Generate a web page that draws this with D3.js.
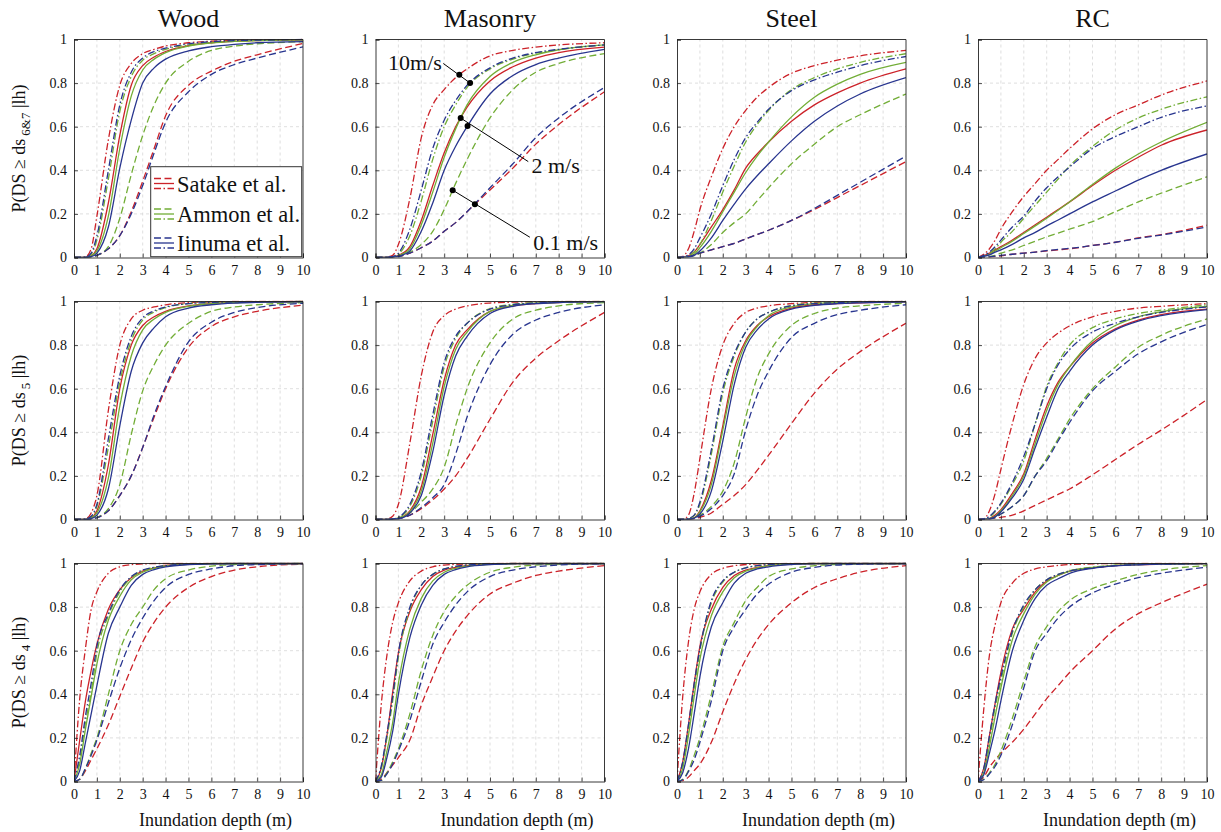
<!DOCTYPE html>
<html>
<head>
<meta charset="utf-8">
<script src="https://cdn.jsdelivr.net/npm/d3@7"></script>
<style>
  html, body { margin: 0; padding: 0; background: #fff; }
  svg { display: block; }
  text { font-family: "Liberation Serif", "Times New Roman", serif; fill: #111; }
</style>
</head>
<body>
<svg id="chart" width="1221" height="832"></svg>
<script>
// Inundation depth samples (m) shared by every curve
const depth = [0, 0.25, 0.5, 0.75, 1, 1.5, 2, 2.5, 3, 3.5, 4, 5, 6, 7, 8, 10];

const materials = ["Wood", "Masonry", "Steel", "RC"];
const damageStates = ["6&7", "5", "4"];
const models = ["Satake et al.", "Ammon et al.", "Iinuma et al."];
const velocities = ["0.1 m/s", "2 m/s", "10 m/s"];
const xTicks = [0, 1, 2, 3, 4, 5, 6, 7, 8, 9, 10];
const yTicks = [0, 0.2, 0.4, 0.6, 0.8, 1];
const yTickLabels = ["0", "0.2", "0.4", "0.6", "0.8", "1"];

// Each panel: 9 curves in order
// Satake (0.1, 2, 10 m/s), Ammon (0.1, 2, 10 m/s), Iinuma (0.1, 2, 10 m/s)
const woodDs67 = [
  [0,0,0.001,0.004,0.01,0.04,0.1,0.21,0.35,0.5,0.65,0.79,0.855,0.9,0.93,0.982],
  [0,0,0.001,0.008,0.04,0.25,0.56,0.79,0.88,0.92,0.945,0.972,0.985,0.992,0.995,0.998],
  [0,0,0.003,0.04,0.19,0.54,0.79,0.89,0.935,0.955,0.97,0.985,0.992,0.996,0.998,1],
  [0,0,0,0.002,0.01,0.05,0.18,0.38,0.56,0.7,0.8,0.9,0.95,0.97,0.98,0.99],
  [0,0,0,0.006,0.03,0.19,0.5,0.74,0.86,0.91,0.94,0.97,0.984,0.991,0.995,0.998],
  [0,0,0.001,0.015,0.08,0.36,0.67,0.83,0.905,0.935,0.955,0.975,0.987,0.993,0.996,0.999],
  [0,0,0.001,0.004,0.01,0.04,0.1,0.2,0.33,0.48,0.62,0.76,0.84,0.885,0.915,0.966],
  [0,0,0,0.004,0.02,0.14,0.41,0.63,0.8,0.87,0.91,0.948,0.967,0.978,0.985,0.99],
  [0,0,0.002,0.02,0.1,0.4,0.7,0.85,0.915,0.945,0.96,0.98,0.99,0.995,0.997,1]
];
const masonryDs67 = [
  [0,0,0.001,0.003,0.005,0.02,0.045,0.075,0.12,0.16,0.21,0.31,0.41,0.52,0.61,0.76],
  [0,0,0,0.002,0.01,0.05,0.17,0.33,0.48,0.6,0.69,0.81,0.875,0.915,0.94,0.965],
  [0,0,0.002,0.01,0.06,0.27,0.55,0.7,0.77,0.825,0.865,0.925,0.95,0.965,0.975,0.985],
  [0,0,0,0.002,0.005,0.025,0.06,0.12,0.22,0.34,0.45,0.64,0.77,0.85,0.89,0.935],
  [0,0,0,0.002,0.008,0.04,0.15,0.3,0.46,0.59,0.7,0.83,0.895,0.93,0.953,0.975],
  [0,0,0.001,0.003,0.015,0.1,0.26,0.45,0.6,0.7,0.78,0.865,0.91,0.937,0.953,0.975],
  [0,0,0.001,0.003,0.005,0.02,0.045,0.075,0.12,0.16,0.21,0.32,0.43,0.55,0.64,0.78],
  [0,0,0,0.001,0.006,0.03,0.12,0.25,0.4,0.51,0.6,0.75,0.835,0.885,0.915,0.955],
  [0,0,0.001,0.004,0.02,0.13,0.31,0.5,0.63,0.72,0.79,0.87,0.915,0.94,0.955,0.975]
];
const steelDs67 = [
  [0,0.002,0.005,0.012,0.02,0.035,0.05,0.065,0.085,0.105,0.125,0.17,0.22,0.275,0.33,0.44],
  [0,0.002,0.008,0.025,0.06,0.14,0.22,0.31,0.41,0.475,0.53,0.625,0.7,0.755,0.8,0.865],
  [0,0.005,0.04,0.12,0.22,0.37,0.5,0.6,0.675,0.735,0.78,0.845,0.88,0.905,0.925,0.95],
  [0,0.001,0.003,0.008,0.02,0.06,0.115,0.16,0.2,0.26,0.32,0.43,0.52,0.6,0.655,0.75],
  [0,0.001,0.004,0.015,0.045,0.12,0.21,0.3,0.39,0.465,0.53,0.645,0.735,0.795,0.84,0.895],
  [0,0.001,0.008,0.025,0.06,0.17,0.3,0.42,0.53,0.61,0.675,0.77,0.825,0.865,0.895,0.935],
  [0,0.002,0.005,0.012,0.02,0.035,0.05,0.065,0.085,0.105,0.125,0.17,0.225,0.285,0.345,0.465],
  [0,0.001,0.003,0.01,0.03,0.09,0.17,0.245,0.315,0.375,0.43,0.535,0.625,0.695,0.75,0.825],
  [0,0.002,0.012,0.04,0.09,0.2,0.33,0.45,0.55,0.62,0.68,0.765,0.815,0.85,0.88,0.922]
];
const rcDs67 = [
  [0,0.001,0.002,0.005,0.008,0.015,0.02,0.025,0.03,0.035,0.04,0.055,0.07,0.09,0.105,0.148],
  [0,0.008,0.02,0.035,0.05,0.08,0.115,0.15,0.185,0.22,0.255,0.33,0.4,0.46,0.515,0.585],
  [0,0.015,0.04,0.08,0.13,0.21,0.28,0.34,0.4,0.45,0.5,0.59,0.655,0.7,0.745,0.81],
  [0,0.002,0.005,0.01,0.02,0.035,0.055,0.075,0.095,0.112,0.13,0.165,0.21,0.255,0.295,0.37],
  [0,0.006,0.015,0.03,0.045,0.075,0.11,0.145,0.18,0.217,0.255,0.335,0.41,0.475,0.53,0.62],
  [0,0.008,0.02,0.04,0.07,0.12,0.18,0.24,0.3,0.36,0.42,0.51,0.585,0.64,0.68,0.737],
  [0,0.001,0.003,0.006,0.01,0.015,0.02,0.025,0.032,0.037,0.042,0.055,0.07,0.088,0.103,0.14],
  [0,0.005,0.012,0.025,0.035,0.06,0.09,0.115,0.145,0.172,0.2,0.255,0.305,0.355,0.4,0.475],
  [0,0.01,0.025,0.05,0.08,0.14,0.19,0.26,0.32,0.37,0.415,0.5,0.555,0.6,0.643,0.695]
];
const woodDs5 = [
  [0,0,0,0.002,0.008,0.04,0.11,0.2,0.33,0.47,0.6,0.79,0.885,0.93,0.955,0.983],
  [0,0,0.001,0.008,0.04,0.25,0.6,0.8,0.89,0.93,0.955,0.98,0.99,0.995,0.998,1],
  [0,0,0.003,0.03,0.11,0.5,0.8,0.92,0.96,0.975,0.985,0.995,0.998,1,1,1],
  [0,0,0,0.003,0.01,0.05,0.16,0.39,0.59,0.71,0.8,0.9,0.955,0.975,0.985,0.995],
  [0,0,0.001,0.006,0.03,0.19,0.52,0.75,0.87,0.92,0.95,0.978,0.99,0.995,0.997,1],
  [0,0,0.002,0.012,0.06,0.33,0.63,0.82,0.915,0.952,0.972,0.99,0.996,0.998,0.999,1],
  [0,0,0,0.002,0.008,0.04,0.11,0.2,0.33,0.48,0.61,0.815,0.905,0.95,0.972,0.992],
  [0,0,0,0.004,0.02,0.14,0.43,0.68,0.81,0.88,0.93,0.97,0.985,0.993,0.996,0.999],
  [0,0,0.002,0.015,0.07,0.37,0.66,0.84,0.925,0.957,0.975,0.99,0.996,0.998,0.999,1]
];
const masonryDs5 = [
  [0,0,0,0.002,0.005,0.02,0.05,0.09,0.14,0.2,0.28,0.46,0.63,0.74,0.82,0.95],
  [0,0,0,0.001,0.005,0.04,0.15,0.39,0.64,0.8,0.87,0.955,0.98,0.99,0.995,0.999],
  [0,0,0.002,0.015,0.07,0.35,0.66,0.86,0.935,0.965,0.98,0.993,0.997,0.999,1,1],
  [0,0,0,0.002,0.008,0.03,0.08,0.14,0.24,0.43,0.6,0.81,0.92,0.96,0.98,0.995],
  [0,0,0,0.001,0.004,0.035,0.13,0.35,0.61,0.78,0.86,0.955,0.982,0.992,0.996,0.999],
  [0,0,0.001,0.002,0.008,0.06,0.2,0.45,0.7,0.83,0.9,0.967,0.987,0.995,0.998,1],
  [0,0,0,0.001,0.005,0.02,0.055,0.1,0.16,0.3,0.47,0.71,0.85,0.915,0.95,0.985],
  [0,0,0,0.001,0.003,0.03,0.11,0.31,0.57,0.75,0.84,0.945,0.978,0.99,0.995,0.999],
  [0,0,0.001,0.003,0.01,0.07,0.22,0.48,0.72,0.84,0.9,0.965,0.985,0.993,0.997,1]
];
const steelDs5 = [
  [0,0,0.001,0.003,0.01,0.03,0.07,0.11,0.16,0.225,0.295,0.44,0.58,0.69,0.77,0.9],
  [0,0,0.002,0.008,0.04,0.18,0.43,0.69,0.82,0.89,0.93,0.97,0.985,0.99,0.994,0.998],
  [0,0.001,0.02,0.12,0.28,0.6,0.8,0.9,0.95,0.97,0.98,0.99,0.996,0.998,1,1],
  [0,0,0.001,0.005,0.02,0.06,0.13,0.26,0.47,0.65,0.76,0.89,0.945,0.97,0.98,0.992],
  [0,0,0.002,0.007,0.035,0.16,0.41,0.66,0.81,0.885,0.935,0.975,0.99,0.995,0.997,0.999],
  [0,0,0.004,0.018,0.07,0.3,0.58,0.75,0.86,0.92,0.95,0.982,0.992,0.996,0.998,1],
  [0,0,0.001,0.004,0.015,0.05,0.11,0.21,0.41,0.57,0.68,0.835,0.9,0.94,0.96,0.985],
  [0,0,0.001,0.006,0.025,0.13,0.36,0.62,0.79,0.87,0.92,0.965,0.982,0.99,0.994,0.998],
  [0,0,0.005,0.02,0.08,0.32,0.6,0.76,0.86,0.92,0.95,0.98,0.99,0.995,0.998,1]
];
const rcDs5 = [
  [0,0.001,0.003,0.006,0.01,0.02,0.04,0.065,0.09,0.115,0.14,0.205,0.275,0.345,0.41,0.55],
  [0,0.001,0.005,0.02,0.045,0.12,0.21,0.37,0.52,0.63,0.7,0.81,0.875,0.915,0.94,0.965],
  [0,0.003,0.04,0.12,0.23,0.44,0.62,0.74,0.81,0.855,0.888,0.93,0.955,0.97,0.978,0.99],
  [0,0.001,0.003,0.01,0.025,0.06,0.11,0.2,0.28,0.37,0.46,0.6,0.7,0.79,0.845,0.92],
  [0,0.001,0.004,0.015,0.04,0.11,0.2,0.35,0.5,0.62,0.7,0.82,0.89,0.93,0.953,0.978],
  [0,0.002,0.01,0.035,0.07,0.16,0.27,0.44,0.61,0.72,0.8,0.88,0.92,0.945,0.96,0.985],
  [0,0.001,0.003,0.01,0.025,0.06,0.11,0.2,0.27,0.36,0.445,0.59,0.68,0.76,0.815,0.895],
  [0,0.001,0.003,0.012,0.035,0.1,0.185,0.33,0.47,0.6,0.68,0.8,0.87,0.91,0.935,0.963],
  [0,0.003,0.015,0.04,0.075,0.17,0.29,0.44,0.6,0.71,0.78,0.86,0.9,0.93,0.95,0.975]
];
const woodDs4 = [
  [0,0.01,0.05,0.1,0.15,0.26,0.39,0.52,0.64,0.73,0.8,0.89,0.94,0.97,0.985,0.997],
  [0,0.19,0.37,0.51,0.63,0.79,0.88,0.935,0.965,0.98,0.99,0.997,0.999,1,1,1],
  [0,0.38,0.61,0.79,0.87,0.955,0.985,0.995,0.998,1,1,1,1,1,1,1],
  [0,0.01,0.06,0.13,0.2,0.4,0.6,0.72,0.8,0.88,0.93,0.97,0.988,0.995,0.998,1],
  [0,0.08,0.24,0.39,0.54,0.74,0.85,0.925,0.96,0.978,0.988,0.996,0.999,1,1,1],
  [0,0.1,0.27,0.41,0.59,0.76,0.87,0.935,0.967,0.982,0.99,0.997,1,1,1,1],
  [0,0.01,0.06,0.12,0.19,0.36,0.52,0.65,0.75,0.83,0.89,0.95,0.975,0.99,0.995,1],
  [0,0.05,0.18,0.31,0.44,0.68,0.8,0.9,0.95,0.972,0.985,0.995,0.998,1,1,1],
  [0,0.12,0.3,0.45,0.62,0.77,0.88,0.94,0.97,0.983,0.99,0.997,1,1,1,1]
];
const masonryDs4 = [
  [0,0.01,0.04,0.075,0.11,0.19,0.35,0.48,0.6,0.69,0.76,0.86,0.91,0.945,0.965,0.99],
  [0,0.06,0.21,0.41,0.59,0.78,0.88,0.94,0.97,0.982,0.99,0.997,1,1,1,1],
  [0,0.35,0.58,0.73,0.82,0.92,0.965,0.985,0.993,0.996,0.998,1,1,1,1,1],
  [0,0.005,0.04,0.09,0.15,0.31,0.51,0.67,0.78,0.85,0.9,0.96,0.983,0.993,0.997,1],
  [0,0.03,0.14,0.27,0.45,0.7,0.84,0.92,0.96,0.978,0.988,0.996,0.999,1,1,1],
  [0,0.06,0.2,0.37,0.57,0.79,0.9,0.95,0.975,0.987,0.993,0.998,1,1,1,1],
  [0,0.005,0.035,0.08,0.14,0.28,0.46,0.63,0.73,0.81,0.87,0.94,0.97,0.985,0.993,0.999],
  [0,0.02,0.11,0.23,0.4,0.66,0.81,0.9,0.95,0.972,0.985,0.995,0.999,1,1,1],
  [0,0.07,0.22,0.39,0.59,0.8,0.9,0.95,0.975,0.987,0.993,0.998,1,1,1,1]
];
const steelDs4 = [
  [0,0.003,0.02,0.05,0.08,0.18,0.32,0.45,0.56,0.65,0.72,0.82,0.89,0.93,0.96,0.99],
  [0,0.09,0.26,0.45,0.62,0.79,0.89,0.945,0.97,0.982,0.99,0.997,1,1,1,1],
  [0,0.39,0.64,0.79,0.87,0.95,0.978,0.99,0.995,0.998,0.999,1,1,1,1,1],
  [0,0.01,0.05,0.12,0.2,0.4,0.62,0.73,0.83,0.89,0.94,0.975,0.99,0.996,0.999,1],
  [0,0.06,0.21,0.39,0.56,0.76,0.87,0.935,0.965,0.98,0.99,0.997,1,1,1,1],
  [0,0.08,0.24,0.43,0.6,0.82,0.915,0.96,0.98,0.99,0.995,0.999,1,1,1,1],
  [0,0.008,0.045,0.1,0.18,0.37,0.6,0.71,0.79,0.86,0.905,0.96,0.982,0.993,0.997,1],
  [0,0.04,0.15,0.31,0.48,0.71,0.82,0.91,0.955,0.975,0.985,0.995,0.999,1,1,1],
  [0,0.09,0.26,0.45,0.61,0.83,0.92,0.96,0.98,0.99,0.995,0.999,1,1,1,1]
];
const rcDs4 = [
  [0,0.02,0.065,0.1,0.13,0.18,0.24,0.31,0.38,0.44,0.5,0.6,0.7,0.77,0.82,0.905],
  [0,0.06,0.21,0.36,0.5,0.7,0.79,0.87,0.92,0.945,0.965,0.98,0.99,0.995,0.997,0.999],
  [0,0.33,0.58,0.72,0.82,0.91,0.955,0.975,0.985,0.991,0.995,0.998,1,1,1,1],
  [0,0.01,0.04,0.08,0.14,0.29,0.46,0.62,0.71,0.78,0.83,0.885,0.92,0.95,0.97,0.99],
  [0,0.04,0.16,0.3,0.43,0.65,0.77,0.86,0.915,0.945,0.965,0.982,0.991,0.995,0.997,0.999],
  [0,0.05,0.19,0.34,0.46,0.68,0.8,0.88,0.925,0.95,0.967,0.983,0.992,0.996,0.998,1],
  [0,0.008,0.035,0.07,0.12,0.26,0.43,0.6,0.68,0.75,0.8,0.865,0.905,0.935,0.955,0.983],
  [0,0.03,0.13,0.24,0.37,0.6,0.74,0.84,0.9,0.93,0.955,0.978,0.989,0.994,0.997,0.999],
  [0,0.06,0.21,0.36,0.48,0.69,0.81,0.88,0.925,0.95,0.965,0.98,0.99,0.995,0.997,1]
];

const panelRows = [
  [woodDs67, masonryDs67, steelDs67, rcDs67],
  [woodDs5, masonryDs5, steelDs5, rcDs5],
  [woodDs4, masonryDs4, steelDs4, rcDs4]
];

// Styling
const modelColors = ["#cc2229", "#72ad36", "#28358f"];
const velocityDash = ["7,3.5", null, "7,2.5,1.5,2.5"];

// Layout
const W = 1221, H = 832;
const plotW = 229, plotH = 218;
const colLeft = [74, 375.5, 677, 978];
const rowTop = [39.5, 301.5, 563.5];

const svg = d3.select("#chart");
svg.append("rect").attr("width", W).attr("height", H).attr("fill", "#fff");

const line = d3.line().curve(d3.curveMonotoneX);

function interpAt(values, x) {
  for (let i = 1; i < depth.length; i++) {
    if (x <= depth[i]) {
      const t = (x - depth[i - 1]) / (depth[i] - depth[i - 1]);
      return values[i - 1] + t * (values[i] - values[i - 1]);
    }
  }
  return values[values.length - 1];
}

const scales = [];

panelRows.forEach((row, r) => {
  scales[r] = [];
  row.forEach((curves, c) => {
    const x = d3.scaleLinear().domain([0, 10]).range([colLeft[c], colLeft[c] + plotW]);
    const y = d3.scaleLinear().domain([0, 1]).range([rowTop[r] + plotH, rowTop[r]]);
    scales[r][c] = { x, y };
    const g = svg.append("g");

    // dashed grid
    g.append("g").selectAll("line").data(xTicks.slice(1, -1)).join("line")
      .attr("x1", d => x(d)).attr("x2", d => x(d))
      .attr("y1", y(0)).attr("y2", y(1))
      .attr("stroke", "#d6d6d6").attr("stroke-width", 0.8).attr("stroke-dasharray", "3,3");
    g.append("g").selectAll("line").data(yTicks.slice(1, -1)).join("line")
      .attr("y1", d => y(d)).attr("y2", d => y(d))
      .attr("x1", x(0)).attr("x2", x(10))
      .attr("stroke", "#d6d6d6").attr("stroke-width", 0.8).attr("stroke-dasharray", "3,3");

    // curves
    const clipId = `clip-${r}-${c}`;
    svg.append("clipPath").attr("id", clipId).append("rect")
      .attr("x", x(0)).attr("y", y(1) - 1).attr("width", plotW).attr("height", plotH + 1);
    const cg = g.append("g").attr("clip-path", `url(#${clipId})`);
    curves.forEach((vals, k) => {
      const m = Math.floor(k / 3), v = k % 3;
      cg.append("path")
        .attr("d", line(depth.map((d, i) => [x(d), y(vals[i])])))
        .attr("fill", "none")
        .attr("stroke", modelColors[m])
        .attr("stroke-width", 1.3)
        .attr("stroke-dasharray", velocityDash[v]);
    });

    // axes: box with inward ticks
    const xAxis = d3.axisBottom(x).tickValues(xTicks).tickSize(-4).tickPadding(8).tickFormat(d3.format("d"));
    const yAxis = d3.axisLeft(y).tickValues(yTicks).tickSize(-4).tickPadding(7).tickFormat((d, i) => yTickLabels[i]);
    const ax = g.append("g").attr("transform", `translate(0,${y(0)})`).call(xAxis);
    const ay = g.append("g").attr("transform", `translate(${x(0)},0)`).call(yAxis);
    [ax, ay].forEach(a => {
      a.attr("font-family", null);
      a.select(".domain").attr("stroke", "#222").attr("stroke-width", 0.9);
      a.selectAll(".tick line").attr("stroke", "#222").attr("stroke-width", 0.8);
      a.selectAll(".tick text").attr("font-size", 14).attr("fill", "#111");
    });
    g.append("line").attr("x1", x(0)).attr("x2", x(10)).attr("y1", y(1)).attr("y2", y(1))
      .attr("stroke", "#222").attr("stroke-width", 0.9);
    g.append("line").attr("x1", x(10)).attr("x2", x(10)).attr("y1", y(0)).attr("y2", y(1))
      .attr("stroke", "#222").attr("stroke-width", 0.9);

    if (r === 0) {
      svg.append("text").attr("x", x(5)).attr("y", 27)
        .attr("text-anchor", "middle").attr("font-size", 26).text(materials[c]);
    }
    if (r === 2) {
      svg.append("text").attr("x", x(5) + 27).attr("y", 826)
        .attr("text-anchor", "middle").attr("font-size", 18).text("Inundation depth (m)");
    }
  });

  // y label with subscript damage state
  const cy = rowTop[r] + plotH / 2;
  const t = svg.append("text")
    .attr("transform", `translate(25,${cy}) rotate(-90)`)
    .attr("text-anchor", "middle").attr("font-size", 18);
  t.append("tspan").text("P(DS \u2265 ds");
  t.append("tspan").attr("font-size", 13).attr("dy", 5).attr("dx", 3).text(damageStates[r]);
  t.append("tspan").attr("dy", -5).text(" |lh)");
});

// Legend in the top-left panel
{
  const lg = svg.append("g");
  const lx = 150.7, ly = 166.7, lw = 151, lh = 90;
  lg.append("rect").attr("x", lx).attr("y", ly).attr("width", lw).attr("height", lh)
    .attr("fill", "#fff").attr("stroke", "#333").attr("stroke-width", 1);
  const centers = [183.5, 214, 243];
  models.forEach((name, m) => {
    velocities.forEach((vel, v) => {
      lg.append("line")
        .attr("x1", 154).attr("x2", 174)
        .attr("y1", centers[m] + (v - 1) * 5).attr("y2", centers[m] + (v - 1) * 5)
        .attr("stroke", modelColors[m]).attr("stroke-width", 1.3)
        .attr("stroke-dasharray", velocityDash[v]);
    });
    lg.append("text").attr("x", 177).attr("y", centers[m] + 8)
      .attr("font-size", 22.5).text(name);
  });
}

// Velocity annotations in the masonry DS6&7 panel
{
  const { x, y } = scales[0][1];
  const data = masonryDs67;
  const notes = [
    { text: "10m/s", at: [0.55, 0.86], from: [2.96, 0.89], dots: [[3.66, 2], [4.13, 8]] },
    { text: "2 m/s", at: [6.81, 0.388], from: [6.67, 0.44], dots: [[4.02, 7], [3.72, 1]] },
    { text: "0.1 m/s", at: [6.89, 0.034], from: [6.74, 0.093], dots: [[4.34, 0], [3.37, 3]] }
  ];
  const ag = svg.append("g");
  notes.forEach(n => {
    const pts = n.dots.map(([dx, k]) => [x(dx), y(interpAt(data[k], dx))]);
    const far = pts.reduce((a, b) => (Math.abs(b[0] - x(n.from[0])) > Math.abs(a[0] - x(n.from[0])) ? b : a));
    ag.append("line").attr("x1", x(n.from[0])).attr("y1", y(n.from[1]))
      .attr("x2", far[0]).attr("y2", far[1]).attr("stroke", "#000").attr("stroke-width", 1);
    pts.forEach(p => ag.append("circle").attr("cx", p[0]).attr("cy", p[1]).attr("r", 3).attr("fill", "#000"));
    ag.append("text").attr("x", x(n.at[0])).attr("y", y(n.at[1])).attr("font-size", 22).text(n.text);
  });
}
</script>
</body>
</html>
